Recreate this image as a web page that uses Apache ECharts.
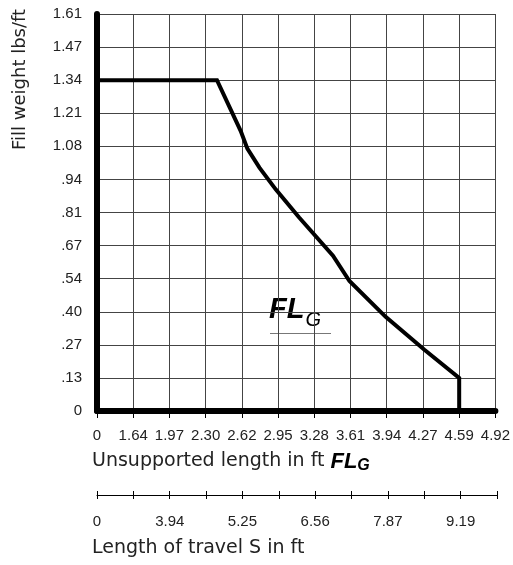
<!DOCTYPE html>
<html>
<head>
<meta charset="utf-8">
<script src="https://cdn.jsdelivr.net/npm/echarts@6/dist/echarts.min.js"></script>
<style>
html,body{margin:0;padding:0;background:#fff;}
#c{width:513px;height:565px;}
</style>
</head>
<body>
<div id="c"></div>
<script>
// Tick labels
var xTicks = [0, 1.64, 1.97, 2.30, 2.62, 2.95, 3.28, 3.61, 3.94, 4.27, 4.59, 4.92];
var xTickLabels = ['0','1.64','1.97','2.30','2.62','2.95','3.28','3.61','3.94','4.27','4.59','4.92'];
var yTicks = [0, 0.13, 0.27, 0.40, 0.54, 0.67, 0.81, 0.94, 1.08, 1.21, 1.34, 1.47, 1.61];
var yTickLabels = ['0','.13','.27','.40','.54','.67','.81','.94','1.08','1.21','1.34','1.47','1.61'];
var travelTickLabels = ['0','','3.94','','5.25','','6.56','','7.87','','9.19',''];

// Curve FL_G: unsupported length (ft) vs fill weight (lbs/ft)
var curveLength = [0, 2.40, 2.61, 2.67, 2.78, 2.93, 3.14, 3.45, 3.60, 3.93, 4.28, 4.59, 4.59];
var curveWeight = [1.34, 1.34, 1.14, 1.07, 0.99, 0.90, 0.79, 0.63, 0.53, 0.38, 0.25, 0.13, 0];

function toPos(v, ticks) {
  for (var i = 0; i < ticks.length - 1; i++) {
    if (v <= ticks[i + 1]) {
      return i + (v - ticks[i]) / (ticks[i + 1] - ticks[i]);
    }
  }
  return ticks.length - 1;
}

var data = curveLength.map(function (x, i) {
  return [toPos(x, xTicks), toPos(curveWeight[i], yTicks)];
});

var FONT = '"Liberation Sans", Arial, sans-serif';
var TFONT = '"DejaVu Sans", "Liberation Sans", sans-serif';

var chart = echarts.init(document.getElementById('c'), null, {renderer: 'canvas'});
chart.setOption({
  animation: false,
  backgroundColor: '#fff',
  grid: [
    {left: 97, right: 16, top: 14, bottom: 154, containLabel: false},
    {left: 97, right: 16, top: 495, height: 0, containLabel: false}
  ],
  xAxis: [
    {
      gridIndex: 0, type: 'value', min: 0, max: 11, interval: 1,
      axisLine: {show: true, onZero: false, lineStyle: {color: '#000', width: 6}},
      axisTick: {show: true, length: 7, lineStyle: {color: '#000', width: 1}},
      axisLabel: {
        margin: 17, fontSize: 15, fontFamily: FONT, color: '#222',
        formatter: function (v) { return xTickLabels[Math.round(v)]; }
      },
      splitLine: {show: true, lineStyle: {color: '#444', width: 1}}
    },
    {
      gridIndex: 1, type: 'value', min: 0, max: 11, interval: 1, position: 'bottom',
      axisLine: {show: true, onZero: false, lineStyle: {color: '#000', width: 1}},
      axisTick: {show: true, length: 4, lineStyle: {color: '#000', width: 1}},
      axisLabel: {
        margin: 19, fontSize: 15, fontFamily: FONT, color: '#222',
        formatter: function (v) { return travelTickLabels[Math.round(v)]; }
      },
      splitLine: {show: false}
    },
    {
      gridIndex: 1, type: 'value', min: 0, max: 11, interval: 1, position: 'top',
      axisLine: {show: false},
      axisTick: {show: true, length: 4, lineStyle: {color: '#000', width: 1}},
      axisLabel: {show: false},
      splitLine: {show: false}
    }
  ],
  yAxis: [
    {
      gridIndex: 0, type: 'value', min: 0, max: 12, interval: 1,
      axisLine: {show: true, onZero: false, lineStyle: {color: '#000', width: 6}},
      axisTick: {show: false},
      axisLabel: {
        margin: 15, fontSize: 15, fontFamily: FONT, color: '#222',
        padding: [4, 0, 0, 0],
        formatter: function (v) { return yTickLabels[Math.round(v)]; }
      },
      splitLine: {show: true, lineStyle: {color: '#444', width: 1}}
    },
    {gridIndex: 1, type: 'value', show: false, min: 0, max: 1}
  ],
  series: [
    {
      type: 'line', xAxisIndex: 0, yAxisIndex: 0,
      data: data, showSymbol: false, symbol: 'none',
      lineStyle: {color: '#000', width: 4, join: 'miter'},
      z: 5
    }
  ],
  graphic: [
    {
      type: 'text', rotation: Math.PI / 2,
      x: 11, y: 150,
      style: {text: 'Fill weight lbs/ft', font: '18px ' + TFONT, fill: '#222', align: 'left', verticalAlign: 'top'}
    },
    {
      type: 'group', z: 10,
      children: [
        {type: 'rect', shape: {x: 270, y: 293, width: 60, height: 40}, style: {fill: '#fff'}},
        {type: 'line', shape: {x1: 270, y1: 333.5, x2: 331, y2: 333.5}, style: {stroke: '#777', lineWidth: 1}},
        {
          type: 'text', x: 269, y: 295,
          style: {
            text: '{a|FL}{b|G}',
            rich: {
              a: {font: 'italic bold 29px ' + FONT, fill: '#000', verticalAlign: 'bottom', lineHeight: 29},
              b: {font: 'italic 20px ' + FONT, fill: '#000', verticalAlign: 'bottom', lineHeight: 22, padding: [0, 0, -6, 1]}
            }
          }
        }
      ]
    },
    {
      type: 'text', x: 92, y: 449,
      style: {
        text: 'Unsupported length in ft {a|FL}{b|G}',
        font: '19px ' + TFONT, fill: '#222',
        rich: {
          a: {font: 'italic bold 22px ' + FONT, fill: '#000'},
          b: {font: 'italic bold 16px ' + FONT, fill: '#000', padding: [9, 0, 0, 0]}
        }
      }
    },
    {
      type: 'text', x: 92, y: 539,
      style: {text: 'Length of travel S in ft', font: '19px ' + TFONT, fill: '#222'}
    }
  ]
});
</script>
</body>
</html>
